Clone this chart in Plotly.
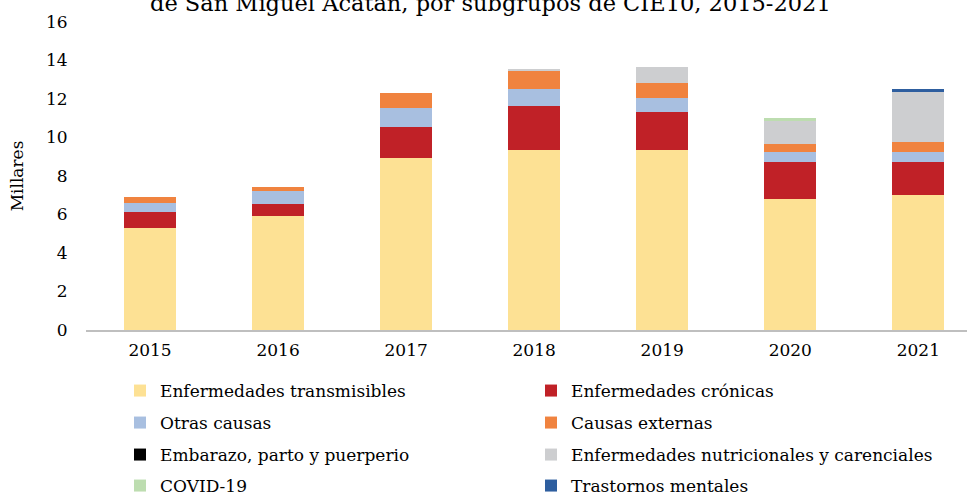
import plotly.graph_objects as go

years = ["2015", "2016", "2017", "2018", "2019", "2020", "2021"]

# Defunciones por subgrupo de CIE10 (millares)
transmisibles = [5.30, 5.93, 8.94, 9.37, 9.37, 6.80, 7.00]
cronicas = [0.84, 0.62, 1.60, 2.26, 1.94, 1.92, 1.72]
otras = [0.45, 0.68, 0.99, 0.87, 0.75, 0.54, 0.54]
externas = [0.31, 0.21, 0.76, 0.96, 0.75, 0.42, 0.52]
embarazo = [0.0, 0.0, 0.0, 0.0, 0.0, 0.0, 0.0]
nutricionales = [0.0, 0.0, 0.0, 0.09, 0.86, 1.19, 2.58]
covid = [0.0, 0.0, 0.0, 0.0, 0.0, 0.14, 0.0]
mentales = [0.0, 0.0, 0.0, 0.0, 0.0, 0.0, 0.15]

series = [
    ("Enfermedades transmisibles", transmisibles, "#FDE194", "legend"),
    ("Enfermedades crónicas", cronicas, "#C02127", "legend"),
    ("Otras causas", otras, "#A8BFE0", "legend2"),
    ("Causas externas", externas, "#F0833F", "legend2"),
    ("Embarazo, parto y puerperio", embarazo, "#000000", "legend3"),
    ("Enfermedades nutricionales y carenciales", nutricionales, "#CDCED0", "legend3"),
    ("COVID-19", covid, "#BDDDB0", "legend4"),
    ("Trastornos mentales", mentales, "#2E5E9F", "legend4"),
]

SERIF = "DejaVu Serif"
W, H = 967, 496

fig = go.Figure()
for name, vals, color, lg in series:
    fig.add_trace(go.Bar(
        x=years, y=vals, name=name, legend=lg,
        marker=dict(color=color, line=dict(width=0)),
    ))

legend_common = dict(
    orientation="h", xref="container", yref="container",
    x=120 / W, xanchor="left", yanchor="middle",
    entrywidthmode="pixels", entrywidth=366,
    font=dict(family=SERIF, size=17, color="#000000"),
    bgcolor="rgba(0,0,0,0)", traceorder="normal",
)
row_y = [391, 423, 455, 486]

fig.update_layout(
    width=W, height=H,
    barmode="stack", bargap=0.594,
    plot_bgcolor="white", paper_bgcolor="white",
    margin=dict(l=86, r=0, t=22, b=H - 330.5, pad=0),
    font=dict(family=SERIF, size=17, color="#000000"),
    legend=dict(legend_common, y=1 - row_y[0] / H),
    legend2=dict(legend_common, y=1 - row_y[1] / H),
    legend3=dict(legend_common, y=1 - row_y[2] / H),
    legend4=dict(legend_common, y=1 - row_y[3] / H),
    xaxis=dict(
        range=[-0.5, 6.38], showgrid=False, zeroline=False,
        showline=True, linecolor="#BFBFBF", linewidth=1.5,
        ticks="outside", ticklen=0, ticklabelstandoff=4,
        tickfont=dict(family=SERIF, size=17),
    ),
    yaxis=dict(
        range=[0, 16], dtick=2, showgrid=False, zeroline=False,
        showline=False, ticks="outside", ticklen=0, ticklabelstandoff=14,
        tickfont=dict(family=SERIF, size=17),
        title=dict(text="Millares", font=dict(family=SERIF, size=17), standoff=18),
    ),
    annotations=[dict(
        text="de San Miguel Acatán, por subgrupos de CIE10, 2015-2021",
        xref="paper", yref="paper", x=0.459, y=1.013,
        xanchor="center", yanchor="bottom", showarrow=False,
        font=dict(family=SERIF, size=22.5, color="#000000"),
    )],
)

fig.write_html("out.html")
